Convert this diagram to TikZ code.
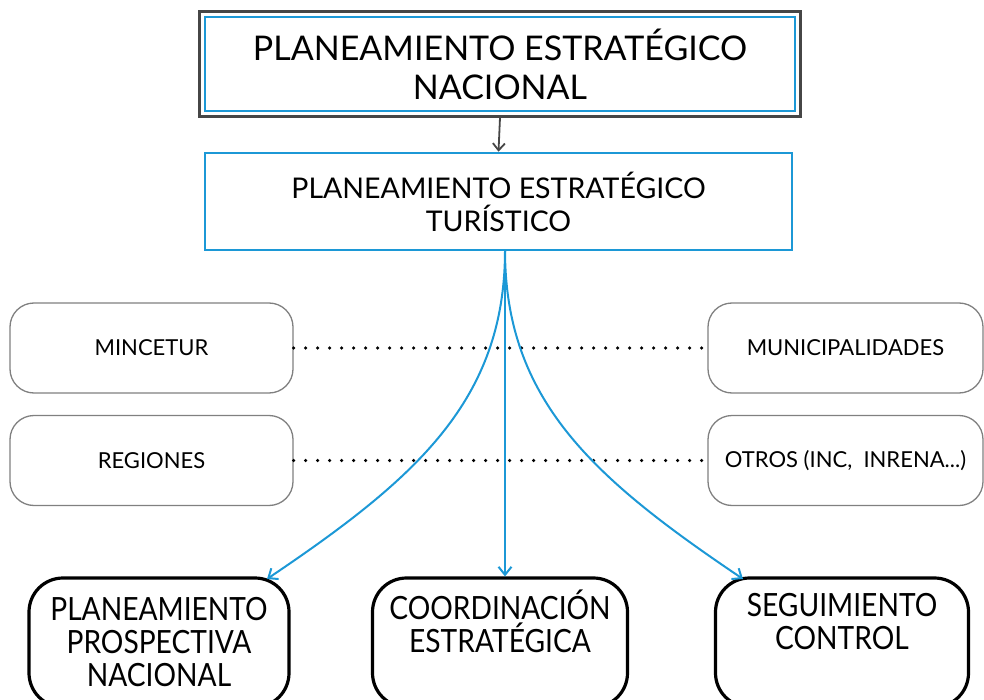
\documentclass[tikz,border=0pt]{standalone}
\usepackage{fontspec}
\setmainfont{Lato}
\newfontfamily\narrowfont{Lato}[FakeStretch=0.88]
\usetikzlibrary{fit,arrows.meta}
\definecolor{celeste}{RGB}{28,152,214}
\definecolor{marco}{RGB}{70,70,70}

\begin{document}
\begin{tikzpicture}[x=1pt,y=-1pt,
    titulo/.style={draw=celeste, line width=2.6pt, align=center, inner sep=0pt},
    actor/.style={draw=gray, line width=1.3pt, rounded corners=24pt, minimum width=283pt,
      minimum height=90pt, align=center, font=\fontsize{22}{26}\selectfont},
    area/.style={draw=black, line width=3.2pt, rounded corners=34pt, minimum width=260pt,
      minimum height=129pt, align=center, font=\narrowfont\fontsize{32}{33}\selectfont},
    enlace/.style={line width=3.6pt, line cap=round, dash pattern=on 0pt off 12pt},
    flujo/.style={draw=celeste, line width=2pt, -{Straight Barb[length=8pt,width=13pt]}}]
    \useasboundingbox (0,0) rectangle (984,700);

    % Niveles de planeamiento
    \node[titulo, minimum width=590pt, minimum height=94pt, font=\fontsize{34}{39}\selectfont]
      (pen) at (500,64) {PLANEAMIENTO ESTRATÉGICO\\NACIONAL};
    \node[fit=(pen), inner sep=4pt, draw=marco, line width=2.8pt] (marcopen) {};
    \node[titulo, minimum width=587pt, minimum height=97pt, font=\fontsize{28.5}{33}\selectfont]
      (pet) at (498.5,201.5) {PLANEAMIENTO ESTRATÉGICO\\TURÍSTICO};
    \draw[marco, line width=1.8pt, -{Straight Barb[length=7pt,width=12pt]}] (marcopen.south) -- (pet.north);

    % Actores
    \node[actor] (mincetur) at (151.5,348) {MINCETUR};
    \node[actor] (regiones) at (151.5,460.5) {REGIONES};
    \node[actor, minimum width=275pt] (muni) at (845.5,348) {MUNICIPALIDADES};
    \node[actor, minimum width=275pt] (otros) at (845.5,460.5) {OTROS (INC,~ INRENA...)};
    \draw[enlace] (mincetur.east) -- (muni.west);
    \draw[enlace] (regiones.east) -- (otros.west);

    % Areas
    \node[area] (plan) at (159,642.5) {PLANEAMIENTO\\PROSPECTIVA\\NACIONAL};
    \node[area, minimum width=255pt] (coord) at (500,642.5) {COORDINACIÓN\\ESTRATÉGICA\\\strut};
    \node[area, minimum width=253pt] (segui) at (842,642.5) {SEGUIMIENTO\\CONTROL\\\strut};

    % Flechas
    \coordinate (hub) at (505,250);
    \coordinate (finplan) at (267,579);
    \coordinate (finsegui) at (743,579);
    \draw[flujo] (hub) -- (hub |- coord.north);
    \draw[flujo] (hub) .. controls (505,400) and (417,478) .. (finplan);
    \draw[flujo] (hub) .. controls (505,400) and (593,478) .. (finsegui);
\end{tikzpicture}
\end{document}
